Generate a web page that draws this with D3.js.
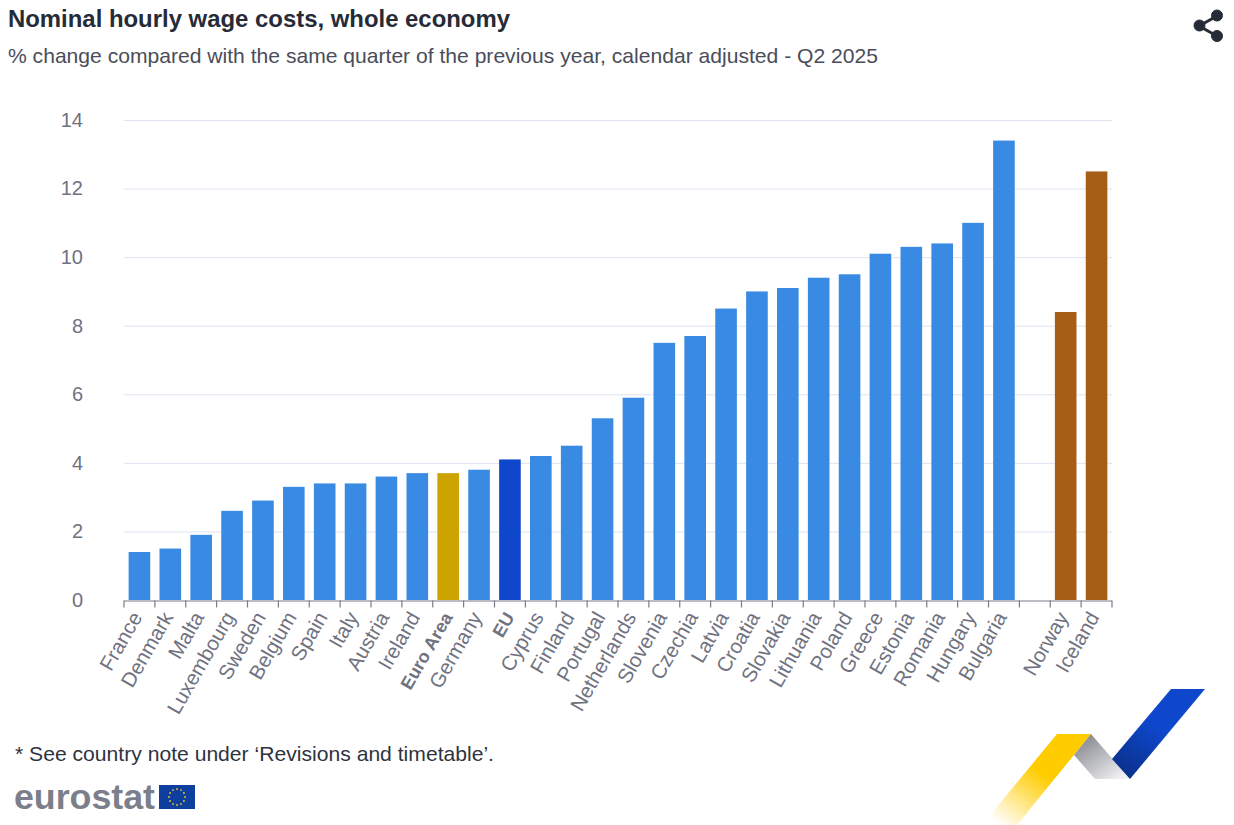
<!DOCTYPE html>
<html>
<head>
<meta charset="utf-8">
<script src="https://cdn.jsdelivr.net/npm/d3@7"></script>
<style>
  html, body { margin: 0; padding: 0; background: #fff; }
  svg { display: block; font-family: "Liberation Sans", Arial, sans-serif; }
</style>
</head>
<body>
<svg id="chart" width="1234" height="825"></svg>
<script>
// blank entry is the gap before the non-EU countries
const countries = ["France", "Denmark", "Malta", "Luxembourg", "Sweden", "Belgium", "Spain", "Italy",
  "Austria", "Ireland", "Euro Area", "Germany", "EU", "Cyprus", "Finland", "Portugal", "Netherlands",
  "Slovenia", "Czechia", "Latvia", "Croatia", "Slovakia", "Lithuania", "Poland", "Greece", "Estonia",
  "Romania", "Hungary", "Bulgaria", " ", "Norway", "Iceland"];
const values = [1.4, 1.5, 1.9, 2.6, 2.9, 3.3, 3.4, 3.4, 3.6, 3.7, 3.7, 3.8, 4.1, 4.2, 4.5, 5.3, 5.9,
  7.5, 7.7, 8.5, 9.0, 9.1, 9.4, 9.5, 10.1, 10.3, 10.4, 11.0, 13.4, null, 8.4, 12.5];
const yTicks = [0, 2, 4, 6, 8, 10, 12, 14];
const boldLabels = ["Euro Area", "EU"];
const nonEu = ["Norway", "Iceland"];

const svg = d3.select("#chart");
const plotLeft = 124, plotRight = 1112, plotTop = 120, plotBottom = 600;

const x = d3.scaleBand().domain(countries).range([plotLeft, plotRight]).paddingInner(0.3).paddingOuter(0.15);
const y = d3.scaleLinear().domain([0, 14]).range([plotBottom, plotTop]);

function barColor(name) {
  if (name === "EU") return "#0e47cb";
  if (name === "Euro Area") return "#cca300";
  if (nonEu.includes(name)) return "#a65e17";
  return "#388ae2";
}

// gridlines
svg.append("g").selectAll("line")
  .data(yTicks.filter(d => d > 0))
  .join("line")
  .attr("x1", plotLeft).attr("x2", plotRight)
  .attr("y1", d => y(d) + 0.5).attr("y2", d => y(d) + 0.5)
  .attr("stroke", "#dfe3f1").attr("stroke-width", 1);

// y axis labels
const yAxis = svg.append("g")
  .attr("transform", `translate(${plotLeft},0)`)
  .call(d3.axisLeft(y).tickValues(yTicks).tickSize(0).tickPadding(41));
yAxis.select(".domain").remove();
yAxis.selectAll("text")
  .attr("font-family", "Liberation Sans")
  .attr("font-size", 20)
  .attr("fill", "#70727f");

// bars
svg.append("g").selectAll("rect")
  .data(countries.map((c, i) => ({ name: c, value: values[i] })).filter(d => d.value !== null))
  .join("rect")
  .attr("x", d => x(d.name))
  .attr("width", x.bandwidth())
  .attr("y", d => y(d.value))
  .attr("height", d => y(0) - y(d.value))
  .attr("fill", d => barColor(d.name));

// x axis: ticks sit on the band edges, so built by hand from the band scale
const step = x.step();
const edges = countries.map(c => x(c) + x.bandwidth() / 2 - step / 2).concat([plotRight]);
const axisG = svg.append("g");
axisG.append("line")
  .attr("x1", plotLeft).attr("x2", plotRight)
  .attr("y1", plotBottom + 1).attr("y2", plotBottom + 1)
  .attr("stroke", "#7a7c88").attr("stroke-width", 1.2);
axisG.selectAll(".edge")
  .data(edges)
  .join("line")
  .attr("class", "edge")
  .attr("x1", d => d).attr("x2", d => d)
  .attr("y1", plotBottom + 0.5).attr("y2", plotBottom + 7.5)
  .attr("stroke", "#7a7c88").attr("stroke-width", 1.2);

axisG.selectAll("text")
  .data(countries)
  .join("text")
  .attr("transform", d => `translate(${x(d) + x.bandwidth() / 2 + (boldLabels.includes(d) ? 5 : 3.5)},${plotBottom + 17}) rotate(-60)`)
  .attr("text-anchor", "end")
  .attr("font-size", d => boldLabels.includes(d) ? 18 : 20.5)
  .attr("font-weight", d => boldLabels.includes(d) ? "bold" : "normal")
  .attr("fill", "#70727f")
  .text(d => d);

// titles
svg.append("text").attr("x", 8).attr("y", 27)
  .attr("font-size", 24).attr("font-weight", "bold").attr("fill", "#262b38")
  .attr("textLength", 502).attr("lengthAdjust", "spacingAndGlyphs")
  .text("Nominal hourly wage costs, whole economy");
svg.append("text").attr("x", 8).attr("y", 63)
  .attr("font-size", 21).attr("fill", "#4a4d59")
  .attr("textLength", 870).attr("lengthAdjust", "spacingAndGlyphs")
  .text("% change compared with the same quarter of the previous year, calendar adjusted - Q2 2025");

// share icon
const share = svg.append("g").attr("fill", "#262b38").attr("stroke", "#262b38");
share.append("path").attr("d", "M1217 16 L1199 26 L1217 36").attr("fill", "none").attr("stroke-width", 3);
share.append("circle").attr("cx", 1217).attr("cy", 15.5).attr("r", 5.5);
share.append("circle").attr("cx", 1199.5).attr("cy", 25.5).attr("r", 5.5);
share.append("circle").attr("cx", 1217).attr("cy", 36).attr("r", 5.5);

// footnote and logo
svg.append("text").attr("x", 15).attr("y", 761)
  .attr("font-size", 21).attr("fill", "#2f3340")
  .attr("textLength", 479).attr("lengthAdjust", "spacingAndGlyphs")
  .text("* See country note under ‘Revisions and timetable’.");
svg.append("text").attr("x", 14).attr("y", 809)
  .attr("font-size", 35).attr("font-weight", "bold").attr("fill", "#7b7f8b")
  .attr("textLength", 141).attr("lengthAdjust", "spacingAndGlyphs")
  .text("eurostat");
svg.append("rect").attr("x", 159).attr("y", 785).attr("width", 36).attr("height", 24).attr("fill", "#0e3f9e");
svg.append("g").selectAll("circle")
  .data(d3.range(12))
  .join("circle")
  .attr("cx", d => 177 + 8 * Math.cos(d * Math.PI / 6))
  .attr("cy", d => 797 + 8 * Math.sin(d * Math.PI / 6))
  .attr("r", 0.9)
  .attr("fill", "#f2c81e");

// ribbon decoration
const defs = svg.append("defs");
function grad(id, x1, y1, x2, y2, stops) {
  const g = defs.append("linearGradient").attr("id", id).attr("gradientUnits", "userSpaceOnUse")
    .attr("x1", x1).attr("y1", y1).attr("x2", x2).attr("y2", y2);
  stops.forEach(s => g.append("stop").attr("offset", s[0]).attr("stop-color", s[1]).attr("stop-opacity", s[2]));
}
grad("ribYellow", 1040, 772, 1000, 825, [[0, "#ffcc00", 1], [1, "#ffcc00", 0]]);
grad("ribGrey", 1085, 740, 1115, 782, [[0, "#8e9096", 1], [1, "#f1f1f3", 1]]);
grad("ribBlue", 1160, 730, 1125, 780, [[0, "#0e47cb", 1], [1, "#0a2f87", 1]]);
svg.append("path").attr("d", "M1057 734 L1091 734 L1017 825 L982 825 Z").attr("fill", "url(#ribYellow)");
svg.append("path").attr("d", "M1091 734 L1130 779 L1095 779 L1074 755 Z").attr("fill", "url(#ribGrey)");
svg.append("path").attr("d", "M1171 689 L1205 689 L1130 779 L1112 759 Z").attr("fill", "url(#ribBlue)");
</script>
</body>
</html>
